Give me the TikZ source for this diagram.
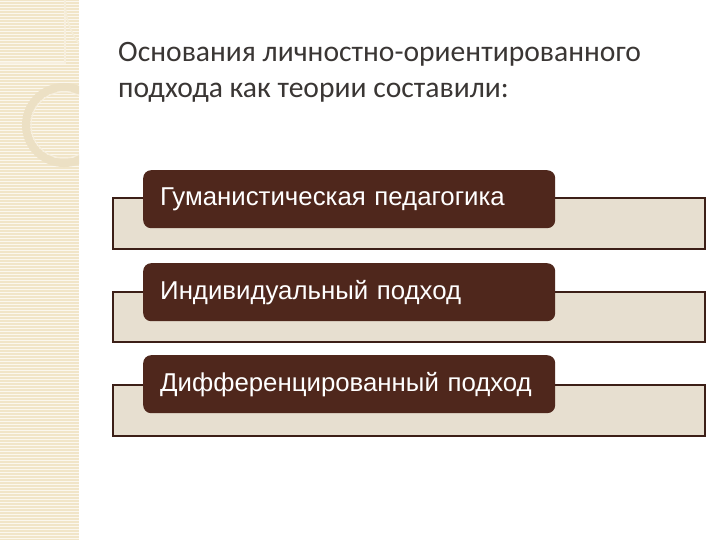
\documentclass[tikz,border=0pt]{standalone}
\usepackage{fontspec}
\setmainfont{Carlito}
\newfontfamily\boxfont{Liberation Sans}
\usepackage{tikz}
\usetikzlibrary{positioning}

\definecolor{stripbg}{HTML}{F1E5C8}
\definecolor{darkbrown}{HTML}{4F271C}
\definecolor{framefill}{HTML}{E7DFD0}
\definecolor{frameline}{HTML}{3C1F17}
\definecolor{titlegray}{HTML}{3A3634}

\tikzset{
  frame/.style={draw=frameline, line width=2pt, fill=framefill},
  itembox/.style={fill=darkbrown, rounded corners=8pt, minimum width=412pt, minimum height=58pt,
    inner xsep=17pt, inner ysep=0pt, text=white, font=\boxfont\fontsize{25.8}{30}\selectfont,
    anchor=north west, text width=378pt, align=left}
}

\begin{document}
\begin{tikzpicture}[x=1pt,y=-1pt]
            \fill[white] (0,0) rectangle (720,540);
            \useasboundingbox (0,0) rectangle (720,540);

            \fill[stripbg] (0,0) rectangle (79,540);
            \foreach \y in {1,4,...,540}
                \draw[white!70!stripbg, line width=0.8pt] (0,\y) -- (79,\y);
            \begin{scope}
                \clip (0,0) rectangle (79,540);
                \draw[white!40!stripbg, line width=1.2pt] (0,63) -- (65,63) -- (65,0);
                \draw[white!30!stripbg, line width=1.5pt] (65,0) arc (0:90:-50 and 63);
                \draw[black!2!stripbg, line width=8pt] (64,125) circle (38);
                \draw[white!40!stripbg, line width=1pt] (64,125) circle (33);
            \end{scope}

            \node[anchor=base west, text=titlegray, font=\fontsize{29.6}{36}\selectfont, align=left,
                inner sep=0pt] (title) at (118,98)
                {Основания личностно-ориентированного\\подхода как теории составили:};

            \draw[frame] (113,198) rectangle (705,249);
            \draw[frame] (113,292) rectangle (705,342);
            \draw[frame] (113,385) rectangle (705,436);

            \node[itembox] (humanist) at (143,170) {Гуманистическая педагогика};
            \node[itembox] (individual) at (143,263) {Индивидуальный подход};
            \node[itembox] (differential) at (143,355) {Дифференцированный подход};
        \end{tikzpicture}
\end{document}
